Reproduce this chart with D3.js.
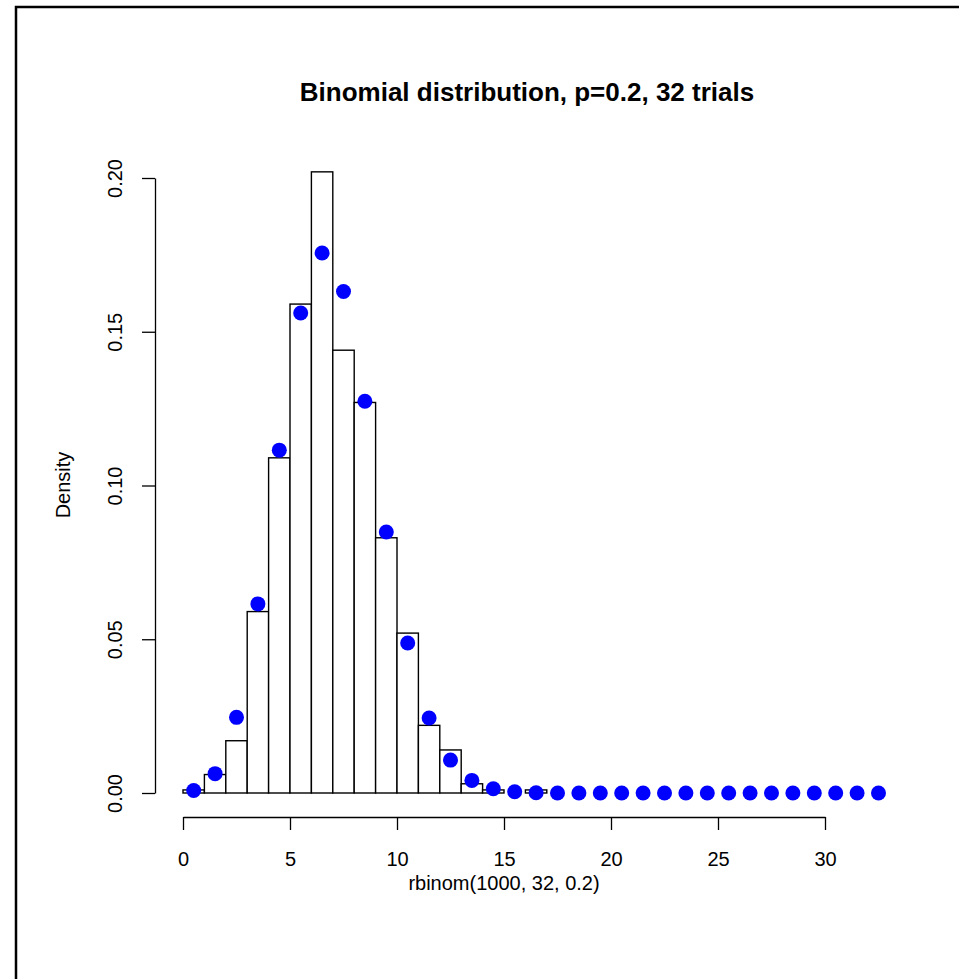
<!DOCTYPE html>
<html>
<head>
<meta charset="utf-8">
<script src="https://cdn.jsdelivr.net/npm/d3@7"></script>
<style>
  body { margin: 0; background: #fff; }
  text { font-family: "Liberation Sans", Arial, sans-serif; fill: #000; }
</style>
</head>
<body>
<script>
// Histogrammklassen (Breite 1) und Dichte je Klasse
const binStarts = d3.range(0, 32);
const binDensity = [0.001, 0.006, 0.017, 0.059, 0.109, 0.159, 0.202, 0.144,
                    0.127, 0.083, 0.052, 0.022, 0.014, 0.003, 0.001, 0.000,
                    0.001, 0, 0, 0, 0, 0, 0, 0, 0, 0, 0, 0, 0, 0, 0, 0];

// Punkte (Binomialwahrscheinlichkeit), gezeichnet bei k + 0.5
const pointX = d3.range(0.5, 33, 1);
const pointY = [0.0008, 0.0063, 0.0246, 0.0615, 0.1115, 0.1561, 0.1756, 0.1631,
                0.1274, 0.0849, 0.0488, 0.0244, 0.0107, 0.0041, 0.0014, 0.0004,
                0.0001, 0, 0, 0, 0, 0, 0, 0, 0, 0, 0, 0, 0, 0, 0, 0, 0];

const xTicks = [0, 5, 10, 15, 20, 25, 30];
const yTicks = [0, 0.05, 0.10, 0.15, 0.20];

const titleText = "Binomial distribution, p=0.2, 32 trials";
const xLabel = "rbinom(1000, 32, 0.2)";
const yLabel = "Density";

const W = 959, H = 979;

const svg = d3.select("body").append("svg")
    .attr("width", W)
    .attr("height", H);

// Rahmen (rechts und unten abgeschnitten)
svg.append("rect")
    .attr("x", 16).attr("y", 7)
    .attr("width", 1200).attr("height", 1200)
    .attr("fill", "none")
    .attr("stroke", "#000")
    .attr("stroke-width", 2.5);

// Skalen
const x = d3.scaleLinear().domain([0, 30]).range([183, 825]);
const y = d3.scaleLinear().domain([0, 0.2]).range([793, 178]);

// Balken
svg.append("g")
    .selectAll("rect")
    .data(binStarts)
    .join("rect")
    .attr("x", d => x(d))
    .attr("y", (d, i) => y(binDensity[i]))
    .attr("width", d => x(d + 1) - x(d))
    .attr("height", (d, i) => y(0) - y(binDensity[i]))
    .attr("fill", "#fff")
    .attr("stroke", "#000")
    .attr("stroke-width", 1.4);

// Punkte
svg.append("g")
    .selectAll("circle")
    .data(pointX)
    .join("circle")
    .attr("cx", d => x(d))
    .attr("cy", (d, i) => y(pointY[i]))
    .attr("r", 7.5)
    .attr("fill", "#0000ff");

// X-Achse
const xAxis = svg.append("g")
    .attr("transform", "translate(0,817)")
    .call(d3.axisBottom(x).tickValues(xTicks).tickSize(13).tickSizeOuter(0).tickFormat(d3.format("d")));
xAxis.selectAll("path, line").attr("stroke", "#000").attr("stroke-width", 1.3);
xAxis.selectAll("text")
    .attr("y", 49).attr("dy", 0)
    .style("font-size", "20px")
    .style("font-family", "'Liberation Sans', Arial, sans-serif");

// Y-Achse
const yAxis = svg.append("g")
    .attr("transform", "translate(155,0)")
    .call(d3.axisLeft(y).tickValues(yTicks).tickSize(13).tickSizeOuter(0).tickFormat(d3.format(".2f")));
yAxis.selectAll("path, line").attr("stroke", "#000").attr("stroke-width", 1.3);
yAxis.selectAll("text")
    .attr("x", null).attr("dy", null)
    .attr("transform", "translate(-33,0) rotate(-90)")
    .attr("text-anchor", "middle")
    .style("font-size", "20px")
    .style("font-family", "'Liberation Sans', Arial, sans-serif");

// Titel und Achsenbeschriftungen
svg.append("text")
    .attr("x", 527).attr("y", 101)
    .attr("text-anchor", "middle")
    .style("font-size", "26px")
    .style("font-weight", "bold")
    .text(titleText);

svg.append("text")
    .attr("x", 504).attr("y", 890)
    .attr("text-anchor", "middle")
    .style("font-size", "20px")
    .text(xLabel);

svg.append("text")
    .attr("transform", "translate(70,485) rotate(-90)")
    .attr("text-anchor", "middle")
    .style("font-size", "20px")
    .text(yLabel);
</script>
</body>
</html>
